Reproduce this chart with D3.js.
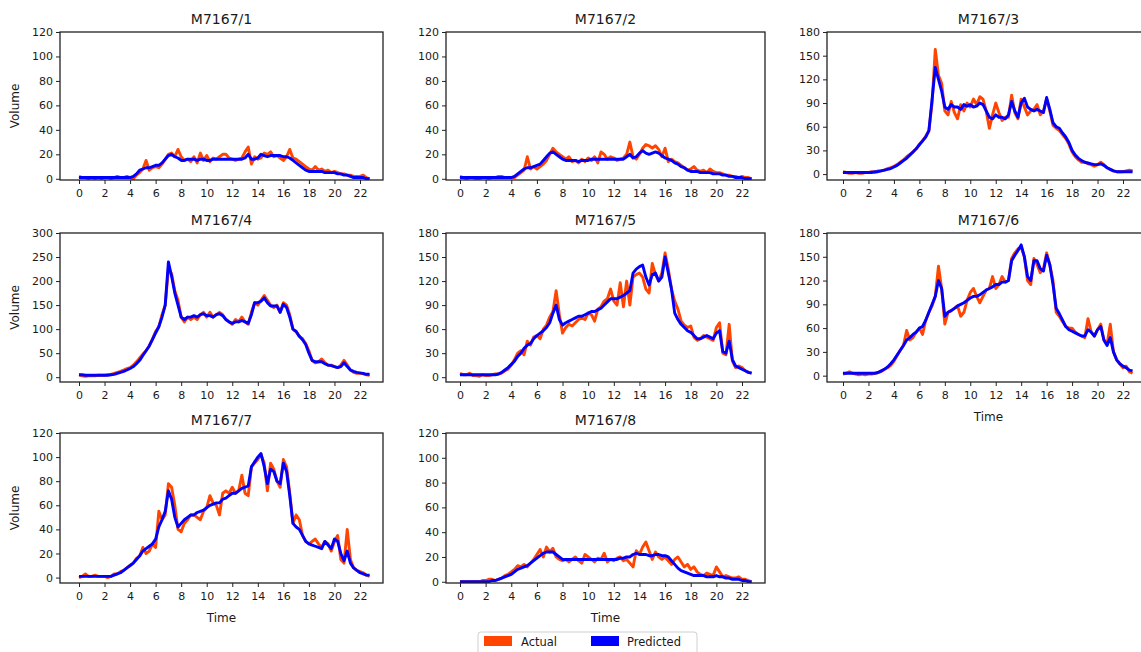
<!DOCTYPE html>
<html><head><meta charset="utf-8">
<script src="https://cdn.jsdelivr.net/npm/d3@7"></script>
<style>
body{margin:0;background:#fff;}
text{font-family:"DejaVu Sans",sans-serif;fill:#1a1a1a;}
</style></head>
<body><svg id="c" width="1141" height="652"></svg>
<script>
// ---- data (15-minute steps, t = 0 .. 22.75 h) ----
const titles = ["M7167/1","M7167/2","M7167/3","M7167/4","M7167/5","M7167/6","M7167/7","M7167/8"];
const xTicks = [0,2,4,6,8,10,12,14,16,18,20,22];
const yTicks120 = [0,20,40,60,80,100,120];
const yTicks180 = [0,30,60,90,120,150,180];
const yTicks300 = [0,50,100,150,200,250,300];
const yMax = [120,120,180,300,180,180,120,120];
const yMin = [-1,-1,-7.5,-10,-6,-8,-4.5,-1];

const actual1 = [2,1,1,0, 1,0,1,0, 1,1,0,1, 2,1,1,2, 1,0,3,5, 8,15,7,9, 10,9,12,16, 20,21,18,24, 18,15,16,14, 18,13,21,15, 19,14,17,16, 18,20,20,17, 16,15,16,17, 22,26,12,18, 16,17,21,20, 22,18,19,17, 15,18,24,17, 16,14,12,10, 8,7,10,7, 8,6,7,5, 6,5,4,4, 3,3,2,2, 2,3,1,0];
const pred1 = [1,1,1,1, 1,1,1,1, 1,1,1,1, 1,1,1,1, 1,2,4,7, 8,9,9,10, 11,11,13,16, 19,20,18,17, 15,15,16,16, 16,15,16,16, 15,15,16,16, 16,16,16,16, 16,16,16,16, 17,20,16,16, 17,20,19,18, 19,19,19,19, 18,18,17,15, 13,11,9,7, 6,6,6,6, 6,5,5,5, 5,4,4,3, 3,2,1,1, 1,1,0,0];

const actual2 = [2,1,0,1, 1,0,0,1, 1,0,1,1, 2,2,1,1, 1,1,3,5, 7,18,8,10, 8,10,12,15, 20,25,22,20, 18,16,18,14, 15,13,16,14, 17,15,18,13, 22,20,16,18, 17,15,16,17, 20,30,18,16, 20,25,28,27, 25,27,24,18, 25,14,16,14, 13,11,9,7, 8,10,7,6, 7,5,8,6, 5,5,4,3, 3,2,2,1, 2,1,1,0];
const pred2 = [1,1,1,1, 1,1,1,1, 1,1,1,1, 1,1,1,1, 1,2,4,6, 8,9,9,10, 11,12,15,18, 21,22,20,18, 16,15,15,15, 15,14,15,15, 15,16,16,16, 16,16,16,16, 16,16,16,16, 18,20,17,18, 21,23,21,20, 21,22,21,19, 17,16,15,13, 12,10,9,7, 6,6,6,5, 5,5,5,4, 4,4,3,3, 2,2,1,1, 1,0,0,0];

const actual3 = [3,2,1,1, 2,1,1,2, 2,3,2,4, 4,5,7,8, 10,12,15,18, 22,25,28,32, 38,42,48,55, 90,158,125,115, 80,75,92,78, 70,88,80,90, 85,95,88,98, 95,80,58,75, 90,78,68,72, 72,100,78,70, 95,85,75,80, 82,88,75,80, 95,80,62,58, 55,50,45,38, 28,22,18,15, 15,13,12,10, 12,15,12,8, 6,4,3,3, 3,4,5,4];
const pred3 = [2,2,2,2, 2,2,2,2, 2,2,3,3, 4,5,6,7, 9,11,14,17, 20,24,28,32, 37,42,47,55, 95,135,120,105, 85,82,88,85, 85,82,88,86, 88,85,86,90, 88,80,72,70, 75,72,72,70, 75,92,80,72, 90,96,85,82, 80,82,80,78, 97,82,65,60, 58,52,47,40, 30,24,20,17, 15,14,13,12, 12,13,11,8, 6,4,3,3, 3,3,3,3];

const actual4 = [5,3,2,3, 3,3,4,4, 4,5,6,8, 10,12,15,18, 20,25,32,40, 48,55,65,80, 95,105,130,150, 225,215,180,160, 125,115,125,120, 125,120,130,135, 125,135,125,130, 135,130,120,115, 110,120,115,125, 115,110,135,155, 150,160,170,160, 150,145,150,135, 155,150,130,100, 95,85,80,70, 55,35,30,32, 38,30,25,25, 22,20,25,35, 25,15,10,8, 8,7,5,4];
const pred4 = [5,5,4,4, 4,4,4,4, 4,4,5,6, 8,10,12,15, 18,22,28,35, 45,55,65,78, 92,105,125,150, 240,210,175,150, 125,120,125,125, 128,125,130,132, 128,128,125,130, 132,128,120,115, 112,115,115,118, 115,112,130,155, 155,158,165,155, 148,148,148,135, 152,145,125,100, 95,85,78,68, 50,35,32,32, 32,28,25,24, 22,20,22,30, 22,15,12,10, 9,8,6,6];

const actual5 = [5,3,3,5, 2,2,1,3, 2,2,3,4, 4,5,8,10, 15,22,30,33, 28,45,40,50, 52,48,60,65, 75,82,108,78, 55,62,66,64, 68,72,74,72, 80,78,70,85, 88,95,98,110, 95,90,118,88, 120,90,125,128, 130,125,110,105, 142,128,120,130, 155,135,110,95, 85,70,65,62, 64,50,46,48, 52,50,48,46, 62,68,30,28, 66,20,12,14, 12,8,6,5];
const pred5 = [3,3,3,3, 3,3,3,3, 3,3,3,3, 4,6,9,12, 16,20,26,30, 36,40,42,48, 52,55,58,62, 68,80,90,72, 65,68,70,72, 74,76,76,78, 80,82,82,84, 86,90,94,98, 98,98,100,102, 105,108,130,135, 138,140,125,115, 128,130,120,125, 150,130,110,80, 72,66,62,58, 56,52,48,48, 50,52,50,48, 55,58,32,30, 45,22,14,12, 10,8,6,5];

const actual6 = [2,3,5,3, 2,1,2,1, 2,2,3,4, 5,8,10,13, 18,25,32,38, 57,45,48,55, 60,52,70,80, 88,100,138,110, 65,80,82,85, 88,75,80,95, 105,110,100,92, 100,108,110,125, 110,115,125,118, 120,148,155,160, 162,150,120,115, 148,140,130,135, 155,140,120,80, 75,68,62,60, 60,55,52,50, 48,72,55,50, 58,65,45,40, 65,30,20,15, 10,12,5,3];
const pred6 = [3,3,3,3, 3,3,3,3, 3,3,3,4, 6,8,11,15, 20,26,32,38, 45,48,52,55, 60,62,70,80, 90,100,120,110, 75,80,82,85, 88,90,92,95, 98,100,100,102, 105,108,110,112, 115,115,118,118, 120,145,152,158, 165,150,125,120, 145,145,135,132, 152,140,115,85, 78,70,62,58, 56,54,52,50, 50,58,55,50, 58,62,45,38, 48,30,20,15, 12,10,7,6];

const actual7 = [0,1,3,1, 1,2,1,1, 1,0,1,3, 3,5,6,8, 10,12,16,18, 25,20,22,28, 25,55,48,52, 78,75,60,40, 38,45,48,52, 52,50,48,55, 58,68,62,60, 52,70,72,70, 75,70,72,85, 70,68,92,95, 98,102,95,72, 95,90,80,75, 98,92,70,45, 52,48,35,30, 28,30,32,28, 25,30,28,22, 30,35,15,12, 40,15,8,6, 5,4,2,1];
const pred7 = [1,1,1,1, 1,1,1,1, 1,1,1,2, 3,4,6,8, 10,12,15,18, 22,24,26,28, 32,42,48,55, 72,65,50,42, 45,48,50,52, 52,54,55,56, 58,60,61,62, 62,65,66,68, 70,70,72,74, 75,76,92,96, 100,103,92,78, 90,88,80,78, 95,88,68,45, 42,40,35,30, 28,27,26,25, 24,30,27,24, 32,30,20,14, 22,12,8,6, 4,3,2,2];

const actual8 = [0,0,0,0, 0,0,0,1, 1,2,2,1, 2,3,5,6, 8,10,13,12, 14,12,15,18, 22,26,20,28, 24,27,20,18, 17,18,16,18, 20,17,15,22, 20,18,16,19, 18,23,16,18, 17,19,20,17, 18,15,12,25, 22,28,32,25, 18,24,20,18, 20,17,14,18, 20,16,12,14, 10,12,8,6, 5,7,6,5, 12,8,4,5, 4,3,3,4, 2,2,1,0];
const pred8 = [0,0,0,0, 0,0,0,0, 0,0,1,1, 2,3,4,5, 6,8,10,11, 12,13,15,17, 19,21,23,24, 24,24,22,20, 18,18,18,18, 18,18,18,18, 18,18,18,18, 18,18,18,18, 18,18,19,19, 20,20,22,23, 22,22,22,21, 21,22,22,21, 21,20,17,14, 11,9,8,7, 6,5,5,5, 5,4,4,4, 5,4,4,3, 3,2,2,2, 1,1,0,0];

const actualSeries = [actual1,actual2,actual3,actual4,actual5,actual6,actual7,actual8];
const predSeries = [pred1,pred2,pred3,pred4,pred5,pred6,pred7,pred8];
const yTickSets = [yTicks120,yTicks120,yTicks180,yTicks300,yTicks180,yTicks180,yTicks120,yTicks120];
const legendLabels = ["Actual","Predicted"];

// ---- layout ----
const colLeft = [60,446,827], colWidth = [323,319,323];
const colX0 = [79,460,843], colX22 = [360,742,1123];
const rowTop = [32,233,433], rowHeight = [148,149,150];
const cActual = "#ff4500", cPred = "#0000ff";

const svg = d3.select("#c");
titles.forEach((title,i)=>{
  const r = Math.floor(i/3), c = i%3;
  const L = colLeft[c], T = rowTop[r], W = colWidth[c], H = rowHeight[r];
  const x = d3.scaleLinear().domain([0,22]).range([colX0[c], colX22[c]]);
  const y = d3.scaleLinear().domain([yMin[i], yMax[i]]).range([T+H, T]);
  const g = svg.append("g");
  const cid = "clip"+i;
  svg.append("clipPath").attr("id",cid).append("rect").attr("x",L).attr("y",T).attr("width",W).attr("height",H);

  const line = d3.line().x((d,k)=>x(k*0.25)).y(d=>y(d));
  const lg = g.append("g").attr("clip-path",`url(#${cid})`);
  lg.append("path").datum(actualSeries[i]).attr("d",line).attr("fill","none")
    .attr("stroke",cActual).attr("stroke-width",2.9).attr("stroke-linejoin","round");
  lg.append("path").datum(predSeries[i]).attr("d",line).attr("fill","none")
    .attr("stroke",cPred).attr("stroke-width",2.9).attr("stroke-linejoin","round");

  // frame
  g.append("rect").attr("x",L).attr("y",T).attr("width",W).attr("height",H)
    .attr("fill","none").attr("stroke","#222").attr("stroke-width",1.3);

  // axes
  const xa = g.append("g").attr("transform",`translate(0,${T+H})`)
    .call(d3.axisBottom(x).tickValues(xTicks).tickSize(4).tickPadding(5).tickFormat(d3.format("d")));
  xa.select(".domain").remove();
  xa.selectAll("text").attr("font-size","11px").attr("font-family","DejaVu Sans").attr("fill","#1a1a1a");
  xa.selectAll("line").attr("stroke","#222");
  const ya = g.append("g").attr("transform",`translate(${L},0)`)
    .call(d3.axisLeft(y).tickValues(yTickSets[i]).tickSize(4).tickPadding(3).tickFormat(d3.format("d")));
  ya.select(".domain").remove();
  ya.selectAll("text").attr("font-size","11px").attr("font-family","DejaVu Sans").attr("fill","#1a1a1a");
  ya.selectAll("line").attr("stroke","#222");

  g.append("text").attr("x",L+W/2).attr("y",T-8).attr("text-anchor","middle")
    .attr("font-size","14px").text(title);
  if(c===0){
    g.append("text").attr("transform",`translate(19,${T+H/2}) rotate(-90)`)
      .attr("text-anchor","middle").attr("font-size","12px").text("Volume");
  }
  if(i>=5){
    g.append("text").attr("x",L+W/2).attr("y",T+H+39).attr("text-anchor","middle")
      .attr("font-size","12px").text("Time");
  }
});

// legend
const lgd = svg.append("g");
lgd.append("rect").attr("x",478).attr("y",632).attr("width",219).attr("height",28).attr("rx",3)
  .attr("fill","#fff").attr("stroke","#d0d0d0");
const lx = [484,591], tx = [521,627];
legendLabels.forEach((lab,k)=>{
  lgd.append("rect").attr("x",lx[k]).attr("y",636).attr("width",28).attr("height",10)
    .attr("fill",k===0?cActual:cPred);
  lgd.append("text").attr("x",tx[k]).attr("y",645.5).attr("font-size","11.5px").text(lab);
});
</script></body></html>
